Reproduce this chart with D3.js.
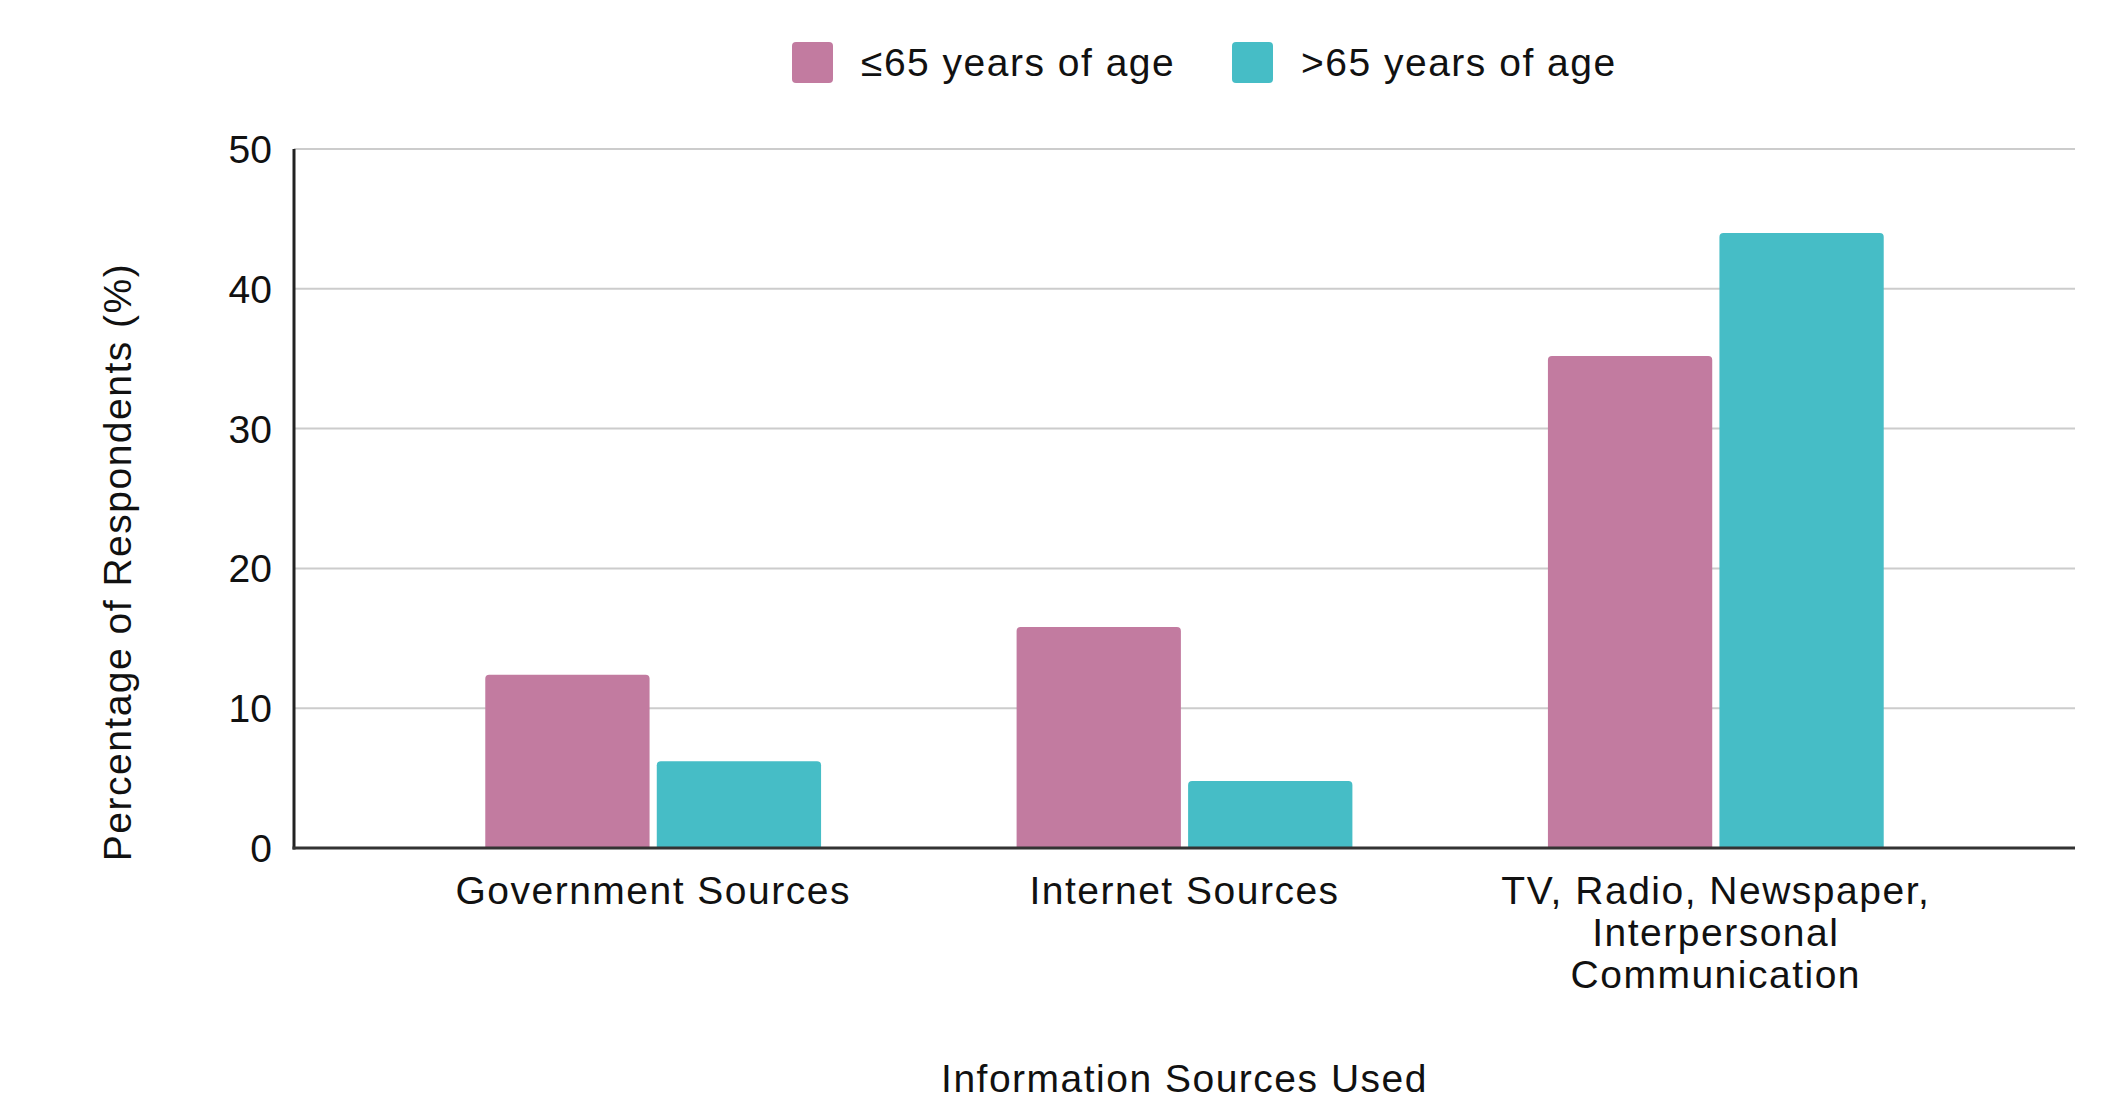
<!DOCTYPE html>
<html>
<head>
<meta charset="utf-8">
<script src="https://cdn.jsdelivr.net/npm/d3@7"></script>
<style>
 body{margin:0;background:#fff;}
 svg text{font-family:"Liberation Sans",Arial,Helvetica,sans-serif;fill:#111;}
 svg text.wide{letter-spacing:1.5px;}
</style>
</head>
<body>
<div id="chartDiv"></div>
<script>
//Chart data
var categories = ["Government Sources", "Internet Sources", "TV, Radio, Newspaper, Interpersonal Communication"];
var catLines   = [["Government Sources"], ["Internet Sources"], ["TV, Radio, Newspaper,", "Interpersonal", "Communication"]];
var seriesNames = ["≤65 years of age", ">65 years of age"];
var under65 = [12.4, 15.8, 35.2];
var over65  = [6.2, 4.8, 44.0];
var yTicks  = [0, 10, 20, 30, 40, 50];
var colors  = ["#c27ba0", "#46bdc6"];

var W = 2119, H = 1101;
var plotLeft = 294, plotRight = 2075, plotTop = 149, plotBottom = 848;

var svg = d3.select("#chartDiv").append("svg")
 .attr("width", W)
 .attr("height", H);

var x0 = d3.scaleBand()				//One band per category
 .domain(categories)
 .range([plotLeft, plotRight])
 .paddingInner(0.368)
 .paddingOuter(0.36);

var x1 = d3.scaleBand()				//Bars inside a group
 .domain(seriesNames)
 .range([0, x0.bandwidth()])
 .paddingInner(0.042);

var y = d3.scaleLinear().domain([0, 50]).range([plotBottom, plotTop]);

//Gridlines
svg.append("g")
 .selectAll("line")
 .data(yTicks.filter(function(t){ return t > 0; }))
 .enter().append("line")
 .attr("x1", plotLeft).attr("x2", plotRight)
 .attr("y1", function(d){ return y(d); })
 .attr("y2", function(d){ return y(d); })
 .attr("stroke", "#cccccc")
 .attr("stroke-width", 2);

//Y tick labels
svg.append("g")
 .selectAll("text")
 .data(yTicks)
 .enter().append("text")
 .attr("x", plotLeft - 22)
 .attr("y", function(d){ return y(d); })
 .attr("dy", "0.36em")
 .attr("text-anchor", "end")
 .style("font-size", "39px")
 .text(function(d){ return d; });

//Rounded-top bar path
function barPath(x, yTop, w, yBot, r){
 r = Math.min(r, (yBot - yTop));
 return "M" + x + "," + yBot +
  "V" + (yTop + r) +
  "Q" + x + "," + yTop + " " + (x + r) + "," + yTop +
  "H" + (x + w - r) +
  "Q" + (x + w) + "," + yTop + " " + (x + w) + "," + (yTop + r) +
  "V" + yBot + "Z";
}

var rows = categories.map(function(c, i){
 return {cat: c, vals: [under65[i], over65[i]]};
});

var groups = svg.append("g").selectAll("g")
 .data(rows)
 .enter().append("g")
 .attr("transform", function(d){ return "translate(" + x0(d.cat) + ",0)"; });

groups.selectAll("path")
 .data(function(d){ return d.vals.map(function(v, j){ return {s: seriesNames[j], v: v, j: j}; }); })
 .enter().append("path")
 .attr("fill", function(d){ return colors[d.j]; })
 .attr("d", function(d){ return barPath(x1(d.s), y(d.v), x1.bandwidth(), y(0), 4); });

//Axes lines
svg.append("line")
 .attr("x1", plotLeft).attr("x2", plotLeft)
 .attr("y1", plotTop).attr("y2", plotBottom + 1.5)
 .attr("stroke", "#222").attr("stroke-width", 3);
svg.append("line")
 .attr("x1", plotLeft - 1.5).attr("x2", plotRight)
 .attr("y1", plotBottom).attr("y2", plotBottom)
 .attr("stroke", "#333").attr("stroke-width", 3);

//Category labels
var catText = svg.append("g").selectAll("text")
 .data(categories)
 .enter().append("text")
 .attr("class", "wide")
 .attr("text-anchor", "middle")
 .style("font-size", "39px")
 .attr("transform", function(d){ return "translate(" + (x0(d) + x0.bandwidth()/2) + ",904)"; });
catText.selectAll("tspan")
 .data(function(d, i){ return catLines[i]; })
 .enter().append("tspan")
 .attr("x", 0)
 .attr("y", function(d, k){ return k * 42; })
 .text(function(d){ return d; });

//Axis titles
svg.append("text")
 .attr("class", "wide")
 .attr("transform", "translate(131,562)rotate(-90)")
 .attr("text-anchor", "middle")
 .style("font-size", "39px")
 .text("Percentage of Respondents (%)");

svg.append("text")
 .attr("class", "wide")
 .attr("x", (x0(categories[1]) + x0.bandwidth()/2))
 .attr("y", 1092)
 .attr("text-anchor", "middle")
 .style("font-size", "39px")
 .text("Information Sources Used");

//Legend
var legendX = [792, 1232];
var legend = svg.append("g").selectAll("g")
 .data(seriesNames)
 .enter().append("g")
 .attr("transform", function(d, i){ return "translate(" + legendX[i] + ",42)"; });
legend.append("rect")
 .attr("width", 41).attr("height", 41)
 .attr("rx", 4)
 .attr("fill", function(d, i){ return colors[i]; });
legend.append("text")
 .attr("class", "wide")
 .attr("x", 69)
 .attr("y", 20)
 .attr("dy", "0.36em")
 .style("font-size", "39px")
 .text(function(d){ return d; });
</script>
</body>
</html>
